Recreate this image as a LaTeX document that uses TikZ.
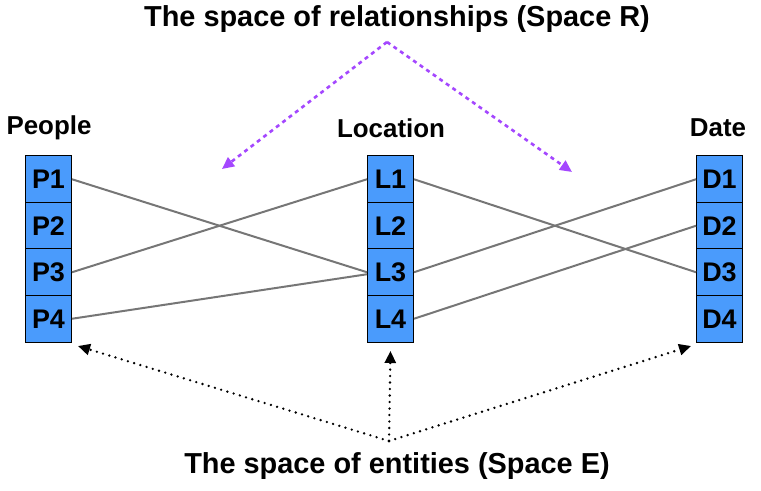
\documentclass[tikz,border=0pt]{standalone}
\usepackage{fontspec}
\setmainfont{Liberation Sans}
\usetikzlibrary{arrows.meta}
\definecolor{cellblue}{HTML}{4A9BFC}
\definecolor{relpurple}{HTML}{A447FF}
\definecolor{linkgray}{HTML}{767676}
\tikzset{
    cell/.style={draw=black, fill=cellblue, line width=1bp, inner sep=0pt,
        minimum width=46bp, minimum height=46.5bp, font=\fontsize{27}{27}\selectfont\bfseries},
    header/.style={font=\fontsize{26}{26}\selectfont\bfseries},
    title/.style={font=\fontsize{29}{29}\selectfont\bfseries},
    link/.style={draw=linkgray, line width=2bp},
    relarrow/.style={draw=relpurple, line width=2.6bp, dash pattern=on 4bp off 4bp,
        -{Triangle[length=12bp, width=11bp]}},
    entarrow/.style={draw=black, line width=2.6bp, line cap=round, dash pattern=on 0bp off 6.5bp,
        -{Triangle[length=12bp, width=11bp]}}
}
\begin{document}
\begin{tikzpicture}[x=1bp, y=-1bp]
    \useasboundingbox (0, 0) rectangle (761, 491);
    % titles
    \node[title] (spacer) at (397, 19) {The space of relationships (Space R)};
    \node[title] (spacee) at (397, 466) {The space of entities (Space E)};
    % column headers
    \node[header] (people) at (49, 128) {People};
    \node[header] (location) at (391, 128) {Location};
    \node[header] (date) at (718, 128) {Date};
    % cells
    \foreach \i/\y in {1/179.25, 2/225.75, 3/272.25, 4/318.75} {
        \node[cell] (p\i) at (48.5, \y) {P\i};
        \node[cell] (l\i) at (390.5, \y) {L\i};
        \node[cell] (d\i) at (719.5, \y) {D\i};
    }
    % links
    \draw[link] (p1.east) -- (l3.west);
    \draw[link] (p3.east) -- (l1.west);
    \draw[link] (p4.east) -- ([yshift=-2bp]l3.west);
    \draw[link] (l1.east) -- (d3.west);
    \draw[link] (l3.east) -- (d1.west);
    \draw[link] (l4.east) -- (d2.west);
    % relationship arrows
    \coordinate (rtop) at (387, 42);
    \coordinate (rleft) at (222, 169);
    \coordinate (rright) at (572, 172);
    \draw[relarrow] (rtop) -- (rleft);
    \draw[relarrow] (rtop) -- (rright);
    % entity arrows
    \coordinate (ebot) at (389, 441);
    \coordinate (eleft) at (78, 346);
    \coordinate (emid) at (390.5, 351);
    \coordinate (eright) at (691, 346);
    \draw[entarrow] (ebot) -- (eleft);
    \draw[entarrow] (ebot) -- (emid);
    \draw[entarrow] (ebot) -- (eright);
\end{tikzpicture}
\end{document}
